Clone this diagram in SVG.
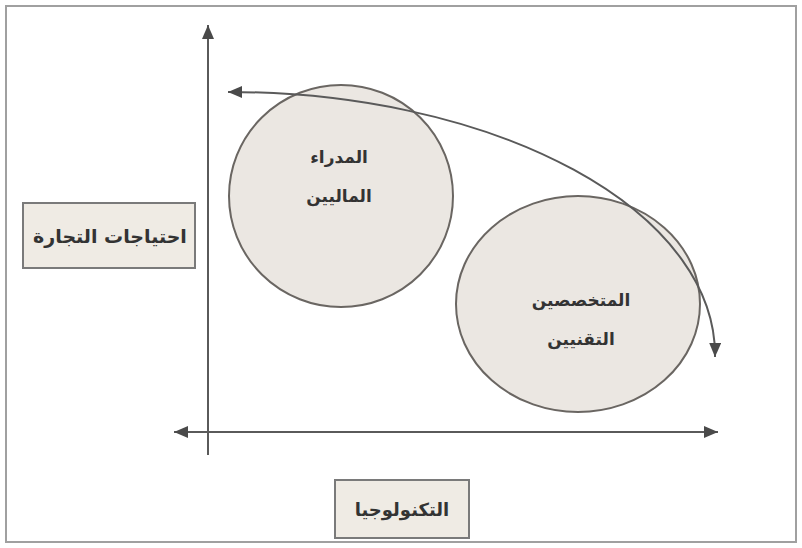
<svg xmlns="http://www.w3.org/2000/svg" width="802" height="548" viewBox="0 0 802 548">
<style>
.frame{fill:#ffffff;stroke:#a0a0a0;stroke-width:2}
.box{fill:#efebe4;stroke:#7a7a7a;stroke-width:2}
.blob{fill:#ebe7e2;stroke:#6a6662;stroke-width:2}
.ax{fill:none;stroke:#5a5a5a;stroke-width:2}
.lbl{font-family:"DejaVu Sans",sans-serif;font-weight:bold;font-size:17px;fill:#333;text-anchor:middle;dominant-baseline:central}
</style>
<defs>
<marker id="ah" viewBox="0 0 14 12" refX="14" refY="6" markerWidth="14" markerHeight="12" markerUnits="userSpaceOnUse" orient="auto-start-reverse">
<path d="M0,0 L14,6 L0,12 Z" fill="#4a4a4a"/>
</marker>
</defs>
<rect class="frame" x="6" y="6" width="790" height="536"/>
<g id="node-managers">
<ellipse class="blob" cx="341" cy="196" rx="112" ry="111"/>
<text class="lbl" x="339" y="157">المدراء</text>
<text class="lbl" x="339" y="196">الماليين</text>
</g>
<g id="node-specialists">
<ellipse class="blob" cx="578" cy="304" rx="122" ry="108"/>
<text class="lbl" x="581" y="300">المتخصصين</text>
<text class="lbl" x="581" y="339">التقنيين</text>
</g>
<g id="node-business">
<rect class="box" x="23" y="203" width="172" height="65"/>
<text class="lbl" x="110" y="236" style="font-size:19px">احتياجات التجارة</text>
</g>
<g id="node-tech">
<rect class="box" x="335" y="480" width="134" height="58"/>
<text class="lbl" x="402" y="509" style="font-size:18px">التكنولوجيا</text>
</g>
<g id="connectors">
<path class="ax" d="M208,455 L208,25" marker-end="url(#ah)"/>
<path class="ax" d="M174,432 L718,432" marker-start="url(#ah)" marker-end="url(#ah)"/>
<path class="ax" d="M228,92 A487,263 0 0 1 715,357" marker-start="url(#ah)" marker-end="url(#ah)"/>
</g>
</svg>
